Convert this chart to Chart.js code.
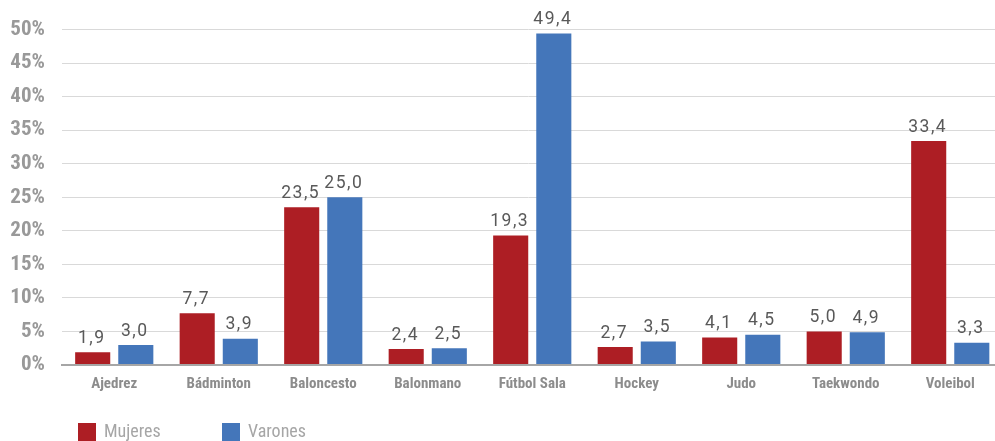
<!DOCTYPE html>
<html>
<head>
<meta charset="utf-8">
<script src="https://cdn.jsdelivr.net/npm/chart.js@4/dist/chart.umd.min.js"></script>
<style>
  html, body { margin: 0; padding: 0; background: #fff; }
  #wrap { width: 995px; height: 441px; }
</style>
</head>
<body>
<div id="wrap"><canvas id="c" width="995" height="441"></canvas></div>
<script>
const categories = ["Ajedrez", "Bádminton", "Baloncesto", "Balonmano", "Fútbol Sala", "Hockey", "Judo", "Taekwondo", "Voleibol"];
const mujeres = [1.9, 7.7, 23.5, 2.4, 19.3, 2.7, 4.1, 5.0, 33.4];
const varones = [3.0, 3.9, 25.0, 2.5, 49.4, 3.5, 4.5, 4.9, 3.3];
const seriesNames = ["Mujeres", "Varones"];
const yTicks = [0, 5, 10, 15, 20, 25, 30, 35, 40, 45, 50];

const COND = '"Liberation Sans Narrow", "Roboto Condensed", Roboto, sans-serif';

const widenX = {
  id: 'widenX',
  afterLayout(chart) {
    const s = chart.scales.x;
    s.right = chart.chartArea.right + 7.5;
    s.width = s.right - s.left;
    s.configure();
  }
};

const valueLabels = {
  id: 'valueLabels',
  afterDatasetsDraw(chart) {
    const ctx = chart.ctx;
    ctx.save();
    ctx.font = '17.5px Roboto, sans-serif';
    ctx.fillStyle = '#595959';
    ctx.textAlign = 'center';
    ctx.textBaseline = 'bottom';
    if ('letterSpacing' in ctx) ctx.letterSpacing = '1.5px';
    chart.data.datasets.forEach((ds, di) => {
      const meta = chart.getDatasetMeta(di);
      meta.data.forEach((bar, i) => {
        const txt = ds.data[i].toFixed(1).replace('.', ',');
        ctx.fillText(txt, bar.x - 1, bar.y - 5);
      });
    });
    ctx.restore();
  }
};

const customLegend = {
  id: 'customLegend',
  afterDraw(chart) {
    const ctx = chart.ctx;
    ctx.save();
    ctx.font = '18px ' + COND;
    ctx.textBaseline = 'middle';
    ctx.textAlign = 'left';
    chart.data.datasets.forEach((ds, i) => {
      const x = 78 + i * 144;
      const y = 423;
      ctx.fillStyle = ds.backgroundColor;
      ctx.fillRect(x, y, 18, 18);
      ctx.fillStyle = '#a6a6a6';
      ctx.fillText(ds.label, x + 26, y + 9);
    });
    ctx.restore();
  }
};

new Chart(document.getElementById('c'), {
  type: 'bar',
  data: {
    labels: categories,
    datasets: [
      { label: seriesNames[0], data: mujeres, backgroundColor: '#AD1E24' },
      { label: seriesNames[1], data: varones, backgroundColor: '#4476BA' }
    ]
  },
  options: {
    responsive: false,
    animation: false,
    layout: { padding: { top: 25, right: 0, bottom: 40, left: 0 } },
    datasets: { bar: { categoryPercentage: 0.825, barPercentage: 0.814 } },
    plugins: {
      legend: { display: false },
      tooltip: { enabled: false }
    },
    scales: {
      x: {
        grid: { display: false, drawTicks: false },
        border: { display: true, color: '#a6a6a6', width: 2 },
        ticks: {
          color: '#8c8c8c',
          font: { family: COND, size: 15, weight: 'bold' },
          padding: 10,
          maxRotation: 0,
          autoSkip: false
        },
        afterFit(s) { s.height = 36; }
      },
      y: {
        min: 0,
        max: 50,
        afterBuildTicks(s) { s.ticks = yTicks.map(v => ({ value: v })); },
        grid: {
          drawTicks: false,
          color: c => (c.tick && c.tick.value === 0) ? '#a6a6a6' : '#d9d9d9',
          lineWidth: c => (c.tick && c.tick.value === 0) ? 2 : 1
        },
        border: { display: false },
        ticks: {
          color: '#999999',
          font: { family: COND, size: 21, weight: 'bold' },
          padding: 17,
          callback: v => v + '%'
        },
        afterFit(s) { s.width = 62; }
      }
    }
  },
  plugins: [widenX, valueLabels, customLegend]
});
</script>
</body>
</html>
